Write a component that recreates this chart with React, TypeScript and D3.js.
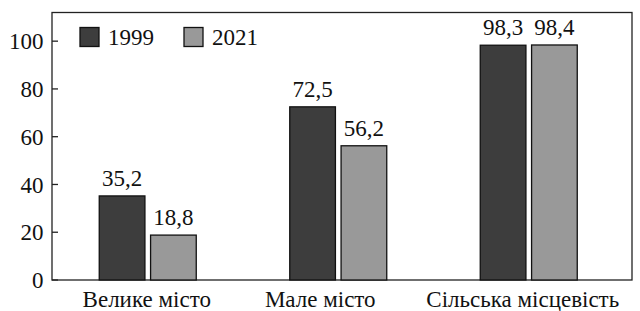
import React from 'react';
import * as d3 from 'd3';

const categories = ['Велике місто', 'Мале місто', 'Сільська місцевість'];
const seriesNames = ['1999', '2021'];
const values1999 = [35.2, 72.5, 98.3];
const values2021 = [18.8, 56.2, 98.4];
const yTicks = [0, 20, 40, 60, 80, 100];
const colors = ['#3d3d3d', '#999999'];
// the category labels in the source sit a little left of their groups
const labelShift = [-1, -18, -6];

const width = 640;
const height = 311;
const left = 52;
const right = 632;
const top = 12.5;
const bottom = 280;
const fontSize = 23;
const txt = { fontFamily: "'Liberation Serif', 'Times New Roman', Times, 'DejaVu Serif', serif", fontSize };

const fmt = (v: number) => v.toFixed(1).replace('.', ',');

const App = () => {
  const y = d3.scaleLinear().domain([0, 112]).range([bottom, top]);
  const x = d3.scaleBand<string>().domain(categories).range([52.5, 624]);
  const inner = d3.scaleBand<string>().domain(seriesNames).range([0, 97]).paddingInner(0.11);
  const series = [values1999, values2021];

  return (
    <svg width={width} height={height} style={{ position: 'absolute', left: 0, top: 0 }}>
      <rect x={left} y={top} width={right - left} height={bottom - top} fill="none" stroke="#222" strokeWidth={1.3} />
      {yTicks.map(t => (
        <g key={t}>
          <line x1={left} x2={left + 6} y1={y(t)} y2={y(t)} stroke="#222" strokeWidth={1.3} />
          <text x={43.5} y={y(t)} dy="0.35em" textAnchor="end" style={txt} fill="#111">{t}</text>
        </g>
      ))}
      {categories.map((c, i) => {
        const cx = (x(c) ?? 0) + x.bandwidth() / 2;
        const gx = cx - 48.5;
        return (
          <g key={c}>
            {series.map((vals, s) => {
              const bx = gx + (inner(seriesNames[s]) ?? 0);
              const bw = inner.bandwidth();
              return (
                <g key={s}>
                  <rect x={bx} y={y(vals[i])} width={bw} height={bottom - y(vals[i])} fill={colors[s]} stroke="#111" strokeWidth={1.3} />
                  <text x={bx + bw / 2} y={y(vals[i]) - 10} textAnchor="middle" style={txt} fill="#111">{fmt(vals[i])}</text>
                </g>
              );
            })}
            <text x={cx + labelShift[i]} y={306.5} textAnchor="middle" style={txt} fill="#111">{c}</text>
          </g>
        );
      })}
      {seriesNames.map((n, s) => (
        <g key={n} transform={`translate(${80 + s * 104},27.5)`}>
          <rect x={0} y={0} width={19} height={19} fill={colors[s]} stroke="#111" strokeWidth={1.3} />
          <text x={28} y={9.5} dy="0.35em" style={txt} fill="#111">{n}</text>
        </g>
      ))}
    </svg>
  );
};

export default App;
